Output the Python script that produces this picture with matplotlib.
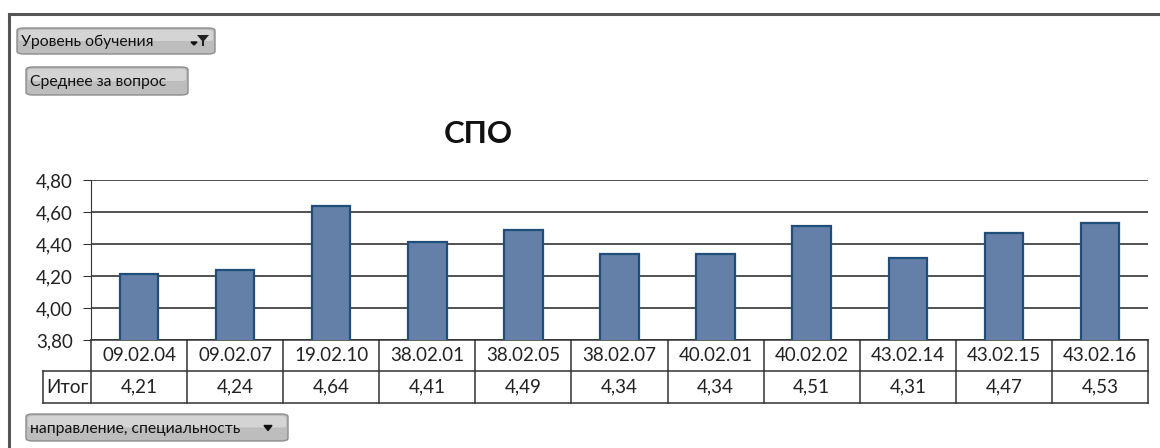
import matplotlib
matplotlib.use("Agg")
import matplotlib.pyplot as plt
from matplotlib.patches import FancyBboxPatch, Polygon
from matplotlib.lines import Line2D
import numpy as np

categories = ["09.02.04", "09.02.07", "19.02.10", "38.02.01", "38.02.05", "38.02.07",
              "40.02.01", "40.02.02", "43.02.14", "43.02.15", "43.02.16"]
values = [4.21, 4.24, 4.64, 4.41, 4.49, 4.34, 4.34, 4.51, 4.31, 4.47, 4.53]
yticks = [3.80, 4.00, 4.20, 4.40, 4.60, 4.80]
row_label = "Итог"
title = "СПО"
filter_label = "Уровень обучения"
values_label = "Среднее за вопрос"
axis_label = "направление, специальность"

plt.rcParams['font.family'] = ['Lato', 'DejaVu Sans']

W, H = 1160, 448
fig = plt.figure(figsize=(W / 100, H / 100), dpi=100)

def fx(px):
    return px / W

def fy(py):
    return 1 - py / H

# Outer frame
fig.add_artist(Line2D([fx(9), fx(9)], [fy(14), fy(448)], color='#555555', lw=2.2))
fig.add_artist(Line2D([fx(9), fx(1160)], [fy(14), fy(14)], color='#555555', lw=2.2))

# Plot axes
left, right, top, bottom = 91, 1148, 180, 340
ax = fig.add_axes([fx(left), fy(bottom), fx(right - left), (bottom - top) / H])
x = np.arange(len(categories))
ax.bar(x, values, width=0.4, color='#6480A8', edgecolor='#1F4E79', linewidth=1.6, zorder=3)
ax.set_xlim(-0.5, len(categories) - 0.5)
ax.set_ylim(3.80, 4.80)
ax.set_yticks(yticks)
ax.set_yticklabels([f"{v:.2f}".replace('.', ',') for v in yticks], fontsize=13.5, color='#222222')
ax.set_xticks([])
ax.grid(axis='y', color='#333333', lw=1.2, zorder=0)
for s in ['top', 'right', 'bottom']:
    ax.spines[s].set_visible(False)
ax.spines['left'].set_color('#333333')
ax.tick_params(axis='y', length=6, color='#333333', pad=7)

# Table below the plot
tr = ax.get_xaxis_transform()
h = bottom - top
r1 = -31 / h
r2 = -63 / h
xl = -0.5 - (left - 43) / ((right - left) / len(categories))
xr = len(categories) - 0.5
lc = '#333333'
lw = 1.1
def hline(y, x0, x1):
    ax.add_line(Line2D([x0, x1], [y, y], transform=tr, color=lc, lw=lw, clip_on=False))
def vline(xv, y0, y1):
    ax.add_line(Line2D([xv, xv], [y0, y1], transform=tr, color=lc, lw=lw, clip_on=False))
hline(0, -0.5, xr)
hline(r1, xl, xr)
hline(r2, xl, xr)
for i in range(len(categories) + 1):
    vline(i - 0.5, r2, 0)
vline(xl, r2, r1)
for i, (c, v) in enumerate(zip(categories, values)):
    ax.text(i, r1 / 2, c, transform=tr, ha='center', va='center', fontsize=13.5, color='#222222')
    ax.text(i, (r1 + r2) / 2, f"{v:.2f}".replace('.', ','), transform=tr, ha='center', va='center',
            fontsize=13.5, color='#222222')
ax.text((xl - 0.5) / 2, (r1 + r2) / 2, row_label, transform=tr, ha='center', va='center',
        fontsize=13.5, color='#222222')

# Title
fig.text(fx(478), fy(134), title, ha='center', va='center', fontsize=22.5, fontweight='bold', color='#111111')

# Buttons
def button(x0, y0, x1, y1, label, arrow=None):
    p = FancyBboxPatch((fx(x0), fy(y1)), fx(x1 - x0), (y1 - y0) / H,
                       boxstyle="round,pad=0,rounding_size=0.006", transform=fig.transFigure,
                       facecolor='#bdbdbd', edgecolor='#8c8c8c', lw=1.0)
    fig.add_artist(p)
    p2 = FancyBboxPatch((fx(x0 + 2), fy((y0 + y1) / 2)), fx(x1 - x0 - 4), ((y1 - y0) / 2 - 2) / H,
                        boxstyle="round,pad=0,rounding_size=0.004", transform=fig.transFigure,
                        facecolor='#dedede', edgecolor='none', alpha=0.7)
    fig.add_artist(p2)
    fig.text(fx(x0 + 4), fy((y0 + y1) / 2 + 1), label, ha='left', va='center', fontsize=11.3, color='#111111')
    if arrow == 'down':
        cx, cy = x1 - 20, (y0 + y1) / 2
        fig.add_artist(Polygon([[fx(cx - 4), fy(cy - 2)], [fx(cx + 4), fy(cy - 2)], [fx(cx), fy(cy + 3)]],
                               closed=True, transform=fig.transFigure, color='#111111'))
    elif arrow == 'filter':
        cx, cy = x1 - 12, (y0 + y1) / 2
        fig.add_artist(Polygon([[fx(cx - 6), fy(cy - 6)], [fx(cx + 6), fy(cy - 6)], [fx(cx + 1), fy(cy)],
                                [fx(cx + 1), fy(cy + 5)], [fx(cx - 1), fy(cy + 5)], [fx(cx - 1), fy(cy)]],
                               closed=True, transform=fig.transFigure, facecolor='#222222'))
        fig.add_artist(Polygon([[fx(cx - 12), fy(cy + 1)], [fx(cx - 6), fy(cy + 1)], [fx(cx - 9), fy(cy + 4)]],
                               closed=True, transform=fig.transFigure, color='#111111'))

button(17, 28, 215, 54, filter_label, arrow='filter')
button(26, 67, 188, 95, values_label)
button(26, 414, 288, 441, axis_label, arrow='down')

fig.savefig("out.png", dpi=100, facecolor='white')
